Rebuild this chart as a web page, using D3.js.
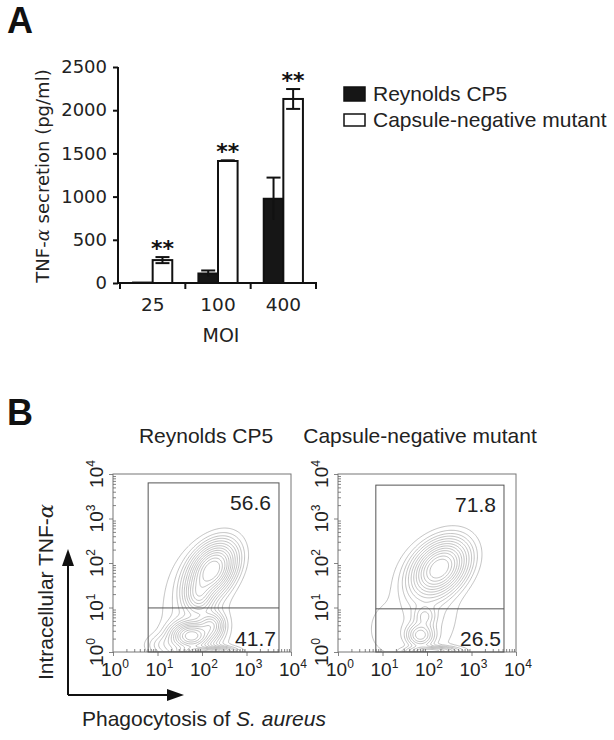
<!DOCTYPE html>
<html><head><meta charset="utf-8">
<script src="https://cdn.jsdelivr.net/npm/d3@7"></script>
<style>body{margin:0;background:#fff} svg{display:block}</style>
</head><body>
<svg id="c" width="614" height="740"></svg>
<script>
// ---------- Panel A data ----------
const mois = ["25", "100", "400"];
const strains = ["Reynolds CP5", "Capsule-negative mutant"];
const cp5Mean = [5, 110, 975];
const cp5Err = [0, 35, 245];
const mutMean = [265, 1412, 2130];
const mutErr = [35, 8, 115];
const signif = ["**", "**", "**"];
const yTicks = [0, 500, 1000, 1500, 2000, 2500];

// ---------- Panel B data ----------
const flowSamples = ["Reynolds CP5", "Capsule-negative mutant"];
const upperPct = ["56.6", "71.8"];
const lowerPct = ["41.7", "26.5"];
const gateLeft = [0.79, 0.85];   // log10 units
const gateRight = [3.73, 3.73];
const gateTop = [3.8, 3.75];
const gateSplit = [0.99, 0.97];
const decades = [0, 1, 2, 3, 4];
// population clusters: [cx, cy, sx, sy, angleDeg, weight] in log10 units
const clustersCP5 = [
  [2.22, 1.84, 0.36, 0.24, 55, 1.0],
  [1.92, 1.25, 0.18, 0.22, 0, 0.35],
  [1.76, 0.36, 0.25, 0.17, 0, 0.9],
  [2.2, 0.6, 0.16, 0.16, 0, 0.35],
  [2.05, 0.0, 0.33, 0.07, 0, 0.7],
  [1.85, 0.8, 0.42, 0.75, 0, 0.07],
  [1.2, 0.15, 0.25, 0.15, 0, 0.1]
];
const clustersMut = [
  [2.28, 1.88, 0.38, 0.27, 45, 1.3],
  [1.85, 0.38, 0.17, 0.15, 0, 0.45],
  [1.95, 0.8, 0.14, 0.14, 0, 0.2],
  [2.1, 0.02, 0.33, 0.06, 0, 0.45],
  [1.95, 1.0, 0.45, 0.7, 0, 0.07],
  [1.0, 0.5, 0.25, 0.4, 0, 0.03]
];
const clusterSets = [clustersCP5, clustersMut];
const levelFractions = [0.015, 0.035, 0.06, 0.09, 0.13, 0.18, 0.24, 0.31, 0.39, 0.48, 0.58, 0.7, 0.82];

const svg = d3.select("#c");

// ================= Panel A =================
const A = svg.append("g");
A.append("text").attr("x", 7).attr("y", 33).attr("font-family", "Liberation Sans, Arial, sans-serif")
  .attr("font-weight", "bold").attr("font-size", 36).attr("fill", "#111").text("A");

const x = d3.scaleBand().domain(mois).range([120, 316]).paddingInner(0).paddingOuter(0);
const x1 = d3.scaleBand().domain(strains).range([x.bandwidth() * 0.2, x.bandwidth() * 0.8]);
const y = d3.scaleLinear().domain([0, 2500]).range([283, 67]);
const fontA = "DejaVu Sans, Verdana, sans-serif";

const rows = mois.map((m, i) => ({ m, vals: [
  { s: strains[0], v: cp5Mean[i], e: cp5Err[i], fill: "#161616" },
  { s: strains[1], v: mutMean[i], e: mutErr[i], fill: "#fff" }
], sig: signif[i] }));

const groups = A.selectAll("g.grp").data(rows).join("g").attr("class", "grp")
  .attr("transform", d => `translate(${x(d.m)},0)`);

groups.selectAll("rect").data(d => d.vals).join("rect")
  .attr("x", d => x1(d.s)).attr("width", x1.bandwidth())
  .attr("y", d => y(d.v)).attr("height", d => y(0) - y(d.v))
  .attr("fill", d => d.fill).attr("stroke", "#111").attr("stroke-width", 2);

// error bars
groups.each(function (d) {
  const g = d3.select(this);
  d.vals.forEach(b => {
    if (!b.e) return;
    const cx = x1(b.s) + x1.bandwidth() / 2;
    const cw = 7;
    g.append("line").attr("x1", cx).attr("x2", cx).attr("y1", y(b.v + b.e)).attr("y2", y(b.v - b.e))
      .attr("stroke", "#111").attr("stroke-width", 2);
    g.append("line").attr("x1", cx - cw).attr("x2", cx + cw).attr("y1", y(b.v + b.e)).attr("y2", y(b.v + b.e))
      .attr("stroke", "#111").attr("stroke-width", 2);
    if (b.fill === "#fff" && b.e > 15)
      g.append("line").attr("x1", cx - cw).attr("x2", cx + cw).attr("y1", y(b.v - b.e)).attr("y2", y(b.v - b.e))
        .attr("stroke", "#111").attr("stroke-width", 2);
  });
  const mb = d.vals[1];
  g.append("text").attr("x", x1(mb.s) + x1.bandwidth() / 2).attr("y", y(mb.v + mb.e) - 1)
    .attr("text-anchor", "middle").attr("font-family", fontA).attr("font-weight", "bold")
    .attr("font-size", 22).attr("fill", "#111").text(d.sig);
});

// axes
const yAx = A.append("g").attr("transform", "translate(118,0)")
  .call(d3.axisLeft(y).tickValues(yTicks).tickSize(5).tickPadding(6).tickFormat(d3.format("d")));
yAx.select(".domain").attr("stroke", "#111").attr("stroke-width", 2).attr("d", `M0,${y(2500)}V${y(0)}`);
yAx.selectAll(".tick line").attr("stroke", "#111").attr("stroke-width", 2);
yAx.selectAll(".tick text").attr("font-family", fontA).attr("font-size", 18).attr("fill", "#222");

const xAx = A.append("g").attr("transform", `translate(0,${y(0)})`)
  .call(d3.axisBottom(x).tickSize(0).tickPadding(15));
xAx.select(".domain").attr("stroke", "#111").attr("stroke-width", 2).attr("d", "M117,0H317");
xAx.selectAll(".tick text").attr("font-family", fontA).attr("font-size", 18.5).attr("fill", "#222");
const bounds = mois.map(m => x(m)).concat([x(mois[mois.length - 1]) + x.bandwidth()]);
A.selectAll("line.bt").data(bounds).join("line").attr("class", "bt")
  .attr("x1", d => d).attr("x2", d => d).attr("y1", y(0)).attr("y2", y(0) + 6)
  .attr("stroke", "#111").attr("stroke-width", 2);

A.append("text").attr("x", 221).attr("y", 342).attr("text-anchor", "middle")
  .attr("font-family", fontA).attr("font-size", 19).attr("fill", "#222").text("MOI");

A.append("text").attr("transform", "translate(49,176) rotate(-90)").attr("text-anchor", "middle")
  .attr("font-family", fontA).attr("font-size", 18).attr("fill", "#222")
  .html('TNF-<tspan font-family="DejaVu Serif, serif" font-style="italic">α</tspan> secretion (pg/ml)');

// legend
const leg = A.append("g").selectAll("g").data(strains).join("g")
  .attr("transform", (d, i) => `translate(344,${87 + i * 26})`);
leg.append("rect").attr("x", 0).attr("y", (d, i) => i ? 1 : 0).attr("width", 21).attr("height", (d, i) => i ? 12 : 14)
  .attr("fill", (d, i) => i ? "#fff" : "#161616").attr("stroke", "#111").attr("stroke-width", 1.5);
leg.append("text").attr("x", 29).attr("y", 14).attr("font-family", "Liberation Sans, Arial, sans-serif")
  .attr("font-size", 21).attr("fill", "#222").text(d => d);

// ================= Panel B =================
const B = svg.append("g");
const fontB = "Liberation Sans, Arial, sans-serif";
B.append("text").attr("x", 7).attr("y", 425).attr("font-family", fontB)
  .attr("font-weight", "bold").attr("font-size", 36).attr("fill", "#111").text("B");

const frameX = [113, 338];
const frameY = 474, frameS = 178;
const titleX = [206, 420];
const N = 160;

function density(clusters) {
  const vals = new Float64Array(N * N);
  const cs = clusters.map(c => ({ cx: c[0], cy: c[1], sx: c[2], sy: c[3], a: c[4] * Math.PI / 180, w: c[5] }));
  for (let j = 0; j < N; j++) {
    const ly = 4 - (j + 0.5) / N * 4;
    for (let i = 0; i < N; i++) {
      const lx = (i + 0.5) / N * 4;
      let v = 0;
      for (const c of cs) {
        const dx = lx - c.cx, dy = ly - c.cy;
        const u = dx * Math.cos(c.a) + dy * Math.sin(c.a);
        const w = -dx * Math.sin(c.a) + dy * Math.cos(c.a);
        v += c.w * Math.exp(-(u * u / (2 * c.sx * c.sx) + w * w / (2 * c.sy * c.sy)));
      }
      vals[j * N + i] = v;
    }
  }
  return vals;
}

flowSamples.forEach((name, k) => {
  const xs = d3.scaleLog().domain([1, 1e4]).range([frameX[k], frameX[k] + frameS]);
  const ys = d3.scaleLog().domain([1, 1e4]).range([frameY + frameS, frameY]);
  const g = B.append("g");

  g.append("text").attr("x", titleX[k]).attr("y", 443).attr("text-anchor", "middle")
    .attr("font-family", fontB).attr("font-size", 21).attr("fill", "#222").text(name);

  const clipId = "clip" + k;
  g.append("clipPath").attr("id", clipId).append("rect")
    .attr("x", xs(1)).attr("y", ys(1e4)).attr("width", frameS).attr("height", frameS);

  const vals = density(clusterSets[k]);
  const mx = d3.max(vals);
  const contours = d3.contours().size([N, N]).thresholds(levelFractions.map(f => f * mx))(vals);
  const proj = d3.geoTransform({
    point: function (px, py) {
      this.stream.point(xs(Math.pow(10, px / N * 4)), ys(Math.pow(10, 4 - py / N * 4)));
    }
  });
  const path = d3.geoPath(proj);
  g.append("g").attr("clip-path", `url(#${clipId})`).selectAll("path").data(contours).join("path")
    .attr("d", path).attr("fill", "none").attr("stroke", "#999").attr("stroke-width", 0.6);

  // frame
  g.append("rect").attr("x", xs(1)).attr("y", ys(1e4)).attr("width", frameS).attr("height", frameS)
    .attr("fill", "none").attr("stroke", "#777").attr("stroke-width", 1);

  // minor ticks
  const minor = [];
  for (let d = 0; d < 4; d++) for (let m = 2; m <= 9; m++) minor.push(m * Math.pow(10, d));
  const xMin = d3.axisBottom(xs).tickValues(minor).tickSize(-3).tickFormat("");
  const xMaj = d3.axisBottom(xs).tickValues(decades.map(d => Math.pow(10, d))).tickSize(4).tickFormat("");
  const yMin = d3.axisLeft(ys).tickValues(minor).tickSize(-3).tickFormat("");
  const yMaj = d3.axisLeft(ys).tickValues(decades.map(d => Math.pow(10, d))).tickSize(4).tickFormat("");
  [[xMin, `translate(0,${ys(1)})`], [xMaj, `translate(0,${ys(1)})`], [yMin, `translate(${xs(1)},0)`], [yMaj, `translate(${xs(1)},0)`]]
    .forEach(([ax, tr]) => {
      const a = g.append("g").attr("transform", tr).call(ax);
      a.select(".domain").remove();
      a.selectAll(".tick line").attr("stroke", "#666").attr("stroke-width", 0.8);
    });

  // tick labels
  g.selectAll("text.xl").data(decades).join("text").attr("class", "xl")
    .attr("x", d => xs(Math.pow(10, d)) - 12).attr("y", 676)
    .attr("font-family", fontB).attr("font-size", 19).attr("fill", "#222")
    .html(d => `10<tspan font-size="12" dy="-8">${d}</tspan>`);
  g.selectAll("text.yl").data(decades).join("text").attr("class", "yl")
    .attr("transform", d => `translate(${xs(1) - 10},${ys(Math.pow(10, d))}) rotate(-90)`)
    .attr("text-anchor", "middle")
    .attr("font-family", fontB).attr("font-size", 19).attr("fill", "#222")
    .html(d => `10<tspan font-size="12" dy="-8">${d}</tspan>`);

  // gate
  const gl = xs(Math.pow(10, gateLeft[k])), gr = xs(Math.pow(10, gateRight[k]));
  const gt = ys(Math.pow(10, gateTop[k])), gs = ys(Math.pow(10, gateSplit[k]));
  g.append("rect").attr("x", gl).attr("y", gt).attr("width", gr - gl).attr("height", ys(1) - gt)
    .attr("fill", "none").attr("stroke", "#555").attr("stroke-width", 1);
  g.append("line").attr("x1", gl).attr("x2", gr).attr("y1", gs).attr("y2", gs)
    .attr("stroke", "#555").attr("stroke-width", 1);

  g.append("text").attr("x", gr - 8).attr("y", gt + 27).attr("text-anchor", "end")
    .attr("font-family", fontB).attr("font-size", 21).attr("fill", "#222").text(upperPct[k]);
  g.append("text").attr("x", gr - 3).attr("y", ys(1) - 6).attr("text-anchor", "end")
    .attr("font-family", fontB).attr("font-size", 21).attr("fill", "#222").text(lowerPct[k]);
});

// axis arrows
const arr = B.append("g");
arr.append("path").attr("d", "M68,695V562").attr("stroke", "#111").attr("stroke-width", 2).attr("fill", "none");
arr.append("path").attr("d", "M68,695H170").attr("stroke", "#111").attr("stroke-width", 2).attr("fill", "none");
arr.append("path").attr("d", "M68,549L62,566L74,566Z").attr("fill", "#111");
arr.append("path").attr("d", "M184,695L167,689L167,701Z").attr("fill", "#111");

B.append("text").attr("transform", "translate(53,592) rotate(-90)").attr("text-anchor", "middle")
  .attr("font-family", fontB).attr("font-size", 21).attr("fill", "#222")
  .html('Intracellular TNF-<tspan font-family="DejaVu Serif, serif" font-style="italic">α</tspan>');
B.append("text").attr("x", 82).attr("y", 726)
  .attr("font-family", fontB).attr("font-size", 21).attr("fill", "#222")
  .html('Phagocytosis of <tspan font-style="italic">S. aureus</tspan>');
</script>
</body></html>
